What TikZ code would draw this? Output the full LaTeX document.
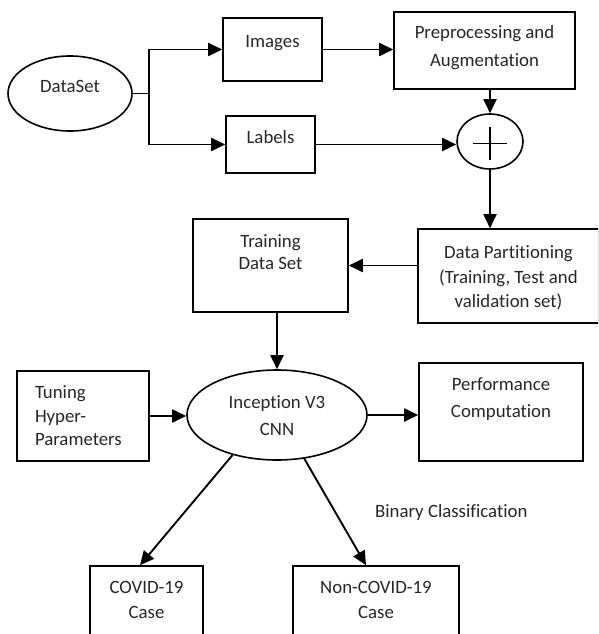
\documentclass[tikz,border=0pt]{standalone}
\usepackage{fontspec}
\setmainfont{Carlito}[Ligatures=NoCommon]
\usetikzlibrary{arrows.meta,shapes.geometric,calc}
\newcommand\bx[6][\centering]{\begin{minipage}[c][#3][t]{#2}#1\fontsize{18.8pt}{#5}\selectfont\lineskiplimit=-100pt\parskip=0pt\vspace*{#4}\rule{0pt}{15pt}#6\end{minipage}}
\tikzset{
  box/.style={draw=black, line width=1.6pt, rectangle, inner sep=0pt, text=black!85},
  oval/.style={draw=black, line width=1.6pt, ellipse, inner sep=0pt, text=black!85},
  arr/.style={line width=1.9pt, -{Triangle[length=14pt,width=13pt]}},
  ln/.style={line width=1.9pt}
}
\begin{document}
\begin{tikzpicture}[x=1pt,y=-1pt]
\useasboundingbox (0,0) rectangle (598,634);
\clip (0,0) rectangle (598,634);
% nodes
\node[oval, minimum width=124pt, minimum height=75pt] (ds) at (70,93.5) {\bx{80pt}{40pt}{4pt}{24.5pt}{DataSet}};
\node[box] (img) at (272.5,49.5) {\bx{99pt}{63pt}{14.5pt}{24.5pt}{Images}};
\node[box] (lab) at (270.5,144.5) {\bx{89pt}{57pt}{12.5pt}{24.5pt}{Labels}};
\node[box] (pre) at (484.5,50.5) {\bx{181pt}{77pt}{11.8pt}{27.7pt}{Preprocessing and\\Augmentation}};
\node[oval, minimum width=66pt, minimum height=55pt] (plus) at (490,141.5) {};
\node[box] (dp) at (508.5,276) {\bx{181pt}{94pt}{14.8pt}{24.2pt}{Data Partitioning\\(Training, Test and\\validation set)}};
\node[box] (tr) at (270.5,265.5) {\bx{155pt}{93pt}{13.2pt}{22.3pt}{Training\\Data Set}};
\node[box] (tun) at (83,416) {\bx[\raggedright\leftskip=18pt]{132pt}{90pt}{12.8pt}{23.3pt}{Tuning\\Hyper-\\Parameters}};
\node[oval, minimum width=180pt, minimum height=90pt] (inc) at (277,415) {\bx{120pt}{60pt}{8.8pt}{26.7pt}{Inception V3\\CNN}};
\node[box] (perf) at (501,412) {\bx{164pt}{98pt}{12.5pt}{26.7pt}{Performance\\Computation}};
\node[box] (cov) at (146.5,608) {\bx{113pt}{84pt}{12.2pt}{25.6pt}{COVID-19\\Case}};
\node[box] (ncov) at (376,608) {\bx{166pt}{84pt}{12.2pt}{25.6pt}{Non-COVID-19\\Case}};
\node[anchor=base west, inner sep=0pt, text=black!85, font=\fontsize{18.8pt}{24pt}\selectfont] (bin) at (375,517.5) {Binary Classification};
% plus sign
\draw[line width=1.5pt] ([xshift=-17pt,yshift=-2pt]plus.center) -- ([xshift=17pt,yshift=-2pt]plus.center);
\draw[line width=1.5pt] ([yshift=14.5pt]plus.center) -- ([yshift=-18.5pt]plus.center);
% connectors
\coordinate (split) at (149,93.5);
\draw[ln] (ds.east) -- (split);
\draw[arr] (split) |- (img.west);
\draw[arr] (split) |- (lab.west);
\draw[arr] (img.east) -- (img.east -| pre.west);
\draw[arr] (plus.north |- pre.south) -- (plus.north);
\draw[arr] (lab.east) -- (lab.east -| plus.west);
\draw[arr] (plus.south) -- (plus.south |- dp.north);
\draw[arr] (tr.east -| dp.west) -- (tr.east);
\draw[arr] (inc.north |- tr.south) -- (inc.north);
\draw[arr] (tun.east) -- (tun.east -| inc.west);
\draw[arr] (inc.east) -- (inc.east -| perf.west);
\draw[arr] (inc.222) -- ([xshift=-6.5pt]cov.north);
\draw[arr] (inc.302) -- ([xshift=-10pt]ncov.north);
\end{tikzpicture}
\end{document}
